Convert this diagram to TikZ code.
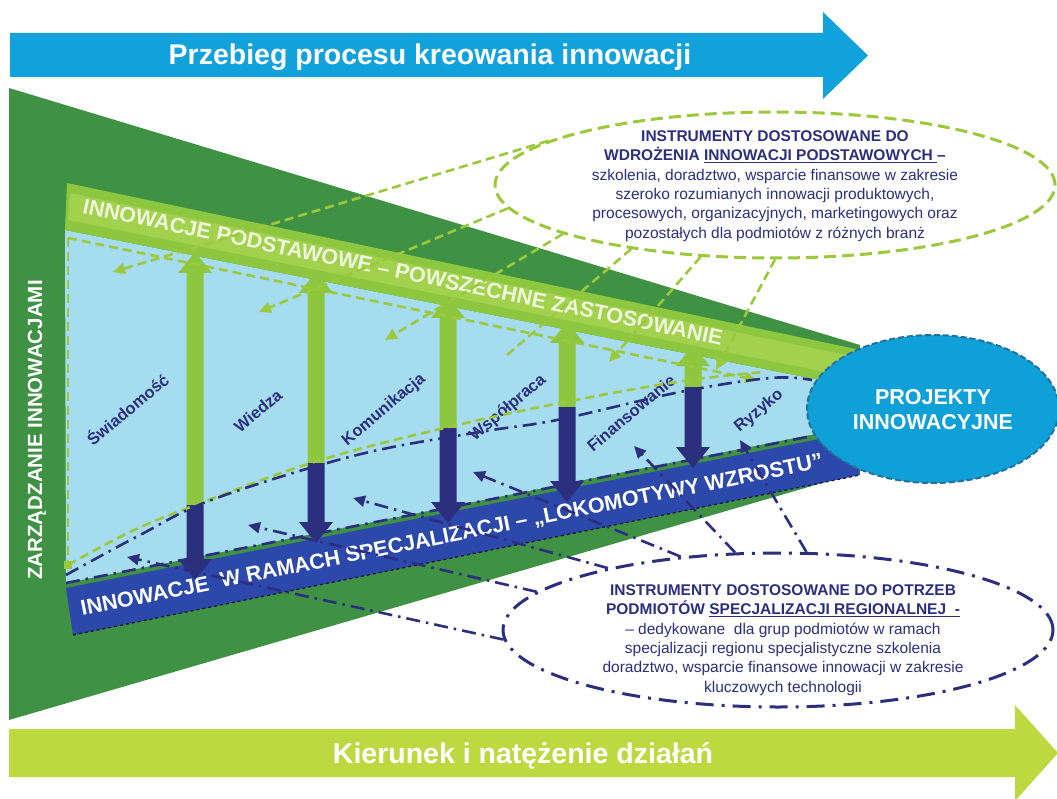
\documentclass[tikz,border=0pt]{standalone}
\usepackage{fontspec}
\setmainfont{Liberation Sans}
\usetikzlibrary{shapes.geometric,arrows.meta}
\definecolor{arrblue}{HTML}{12A2DB}
\definecolor{limec}{HTML}{BED840}
\definecolor{dgreen}{HTML}{3F9144}
\definecolor{lgreen}{HTML}{8DC63F}
\definecolor{lgreenhi}{HTML}{A2D14E}
\definecolor{lblue}{HTML}{A5DCF0}
\definecolor{navy}{HTML}{2B2F7E}
\definecolor{rblue}{HTML}{2B48AA}
\definecolor{dashg}{HTML}{9CC93C}
\definecolor{projblue}{HTML}{10A0D8}
\definecolor{projedge}{HTML}{24709F}
\definecolor{bandtext}{HTML}{EEF6DC}
\begin{document}
\begin{tikzpicture}[x=1pt,y=-1pt,
  gdash/.style={dashg, line width=2.6pt, dash pattern=on 9pt off 5pt},
  ndash/.style={navy, line width=2.6pt, dash pattern=on 14pt off 6pt on 2.5pt off 6pt},
  garr/.style={gdash,-{Triangle[length=12pt,width=11pt]}},
  narr/.style={ndash,-{Triangle[length=12pt,width=11pt]}},
  lab/.style={font=\fontsize{16.5}{18}\selectfont\bfseries, text=navy, rotate=40, inner sep=0pt},
  instr/.style={font=\fontsize{15.5}{19.4}\selectfont, text=navy, align=center, inner sep=0pt},
  bandlab/.style={font=\fontsize{21.5}{24}\selectfont\bfseries, inner sep=0pt},
  bigarrtext/.style={font=\fontsize{28.5}{32}\selectfont\bfseries, text=white, inner sep=0pt, anchor=base},
]
\useasboundingbox (0,0) rectangle (1057,799);
% big arrows
\fill[arrblue] (10,33) -- (823,33) -- (823,12) -- (868,55.5) -- (823,99) -- (823,77) -- (10,77) -- cycle;
\node[bigarrtext] (proc) at (430,65) {Przebieg procesu kreowania innowacji};
\fill[limec] (9,729) -- (1015,729) -- (1015,705) -- (1058,753) -- (1015,801) -- (1015,777) -- (9,777) -- cycle;
\node[bigarrtext] (kier) at (523,763) {Kierunek i natężenie działań};
% trapezoid
\fill[dgreen] (9,88) -- (860,345) -- (860,472) -- (9,720) -- cycle;
% light blue area
\fill[lblue] (65,230) -- (870,390) -- (860,425) -- (66,583) -- cycle;
% top band
\fill[lgreen] (67,183) -- (870,352) -- (870,390) -- (65,230) -- cycle;
\fill[lgreenhi] (70,193) -- (870,360) -- (870,381) -- (68,220) -- cycle;
% bottom band
\fill[rblue] (66,588) -- (855,432) -- (860,475) -- (73,635) -- cycle;
\draw[black!60!navy, line width=1.2pt, dashed] (73,635) -- (860,475);
\node[bandlab, text=bandtext, rotate=-11.7] (bandA) at (403,272) {INNOWACJE PODSTAWOWE – POWSZECHNE ZASTOSOWANIE};
\node[bandlab, text=white, rotate=11.3] (bandB) at (452,536) {INNOWACJE\ \ W RAMACH SPECJALIZACJI – „LOKOMOTYWY WZROSTU”};
\node[font=\fontsize{20.5}{24}\selectfont\bfseries, text=white, rotate=90, inner sep=0pt] (zarz) at (37,430) {ZARZĄDZANIE INNOWACJAMI};
% vertical double arrows
\foreach \x/\t/\s/\b in {195/252/505/580, 316/272/463/543, 448/297/428/523, 567/322/407/502, 693/345/387/468} {
  \fill[lgreen] ({\x-8.5},\s) -- ({\x-8.5},{\t+21}) -- ({\x-17},{\t+21}) -- (\x,\t) -- ({\x+17},{\t+21}) -- ({\x+8.5},{\t+21}) -- ({\x+8.5},\s) -- cycle;
  \fill[navy] ({\x-8.5},\s) -- ({\x-8.5},{\b-21}) -- ({\x-17},{\b-21}) -- (\x,\b) -- ({\x+17},{\b-21}) -- ({\x+8.5},{\b-21}) -- ({\x+8.5},\s) -- cycle;
}
% labels
\node[lab] (l1) at (127,409) {Świadomość};
\node[lab] (l2) at (258,411) {Wiedza};
\node[lab] (l3) at (384,410) {Komunikacja};
\node[lab] (l4) at (508,408) {Współpraca};
\node[lab] (l5) at (631,413) {Finansowanie};
\node[lab] (l6) at (759,411) {Ryzyko};
% dashed boundaries
\draw[gdash] (68,238) -- (68,565);
\draw[garr] (68,238) -- (757,380);
\draw[gdash] plot[smooth, tension=0.6] coordinates {(68,565) (130,532) (193,506) (314,462) (440,429) (560,403) (683,381) (765,372)};
\fill[dashg] (64,561) rectangle (72,569);
\draw[ndash] plot[smooth, tension=0.6] coordinates {(66,575) (140,535) (214,499) (357,455) (480,432) (557,420) (680,392) (770,378) (812,380)};
\draw[ndash] (66,583) -- (812,436);
% project ellipse
\node[ellipse, minimum width=252pt, minimum height=148pt, inner sep=0pt, fill=projblue, draw=projedge, line width=2pt, dash pattern=on 6pt off 3pt] (proj) at (933,409) {};
\node[font=\fontsize{21.5}{25}\selectfont\bfseries, text=white, align=center] (projtext) at (933,410) {PROJEKTY\\INNOWACYJNE};
% instrument ellipse A
\node[ellipse, minimum width=560pt, minimum height=146pt, inner sep=0pt, draw=dashg, line width=3pt, dash pattern=on 12pt off 6pt] (instrA) at (775,185) {};
\node[instr] (instrAtext) at (775,186) {\textbf{INSTRUMENTY DOSTOSOWANE DO}\\ \textbf{WDROŻENIA \underline{INNOWACJI PODSTAWOWYCH\ }–}\\ szkolenia, doradztwo, wsparcie finansowe w zakresie\\ szeroko rozumianych innowacji produktowych,\\ procesowych, organizacyjnych, marketingowych oraz\\ pozostałych dla podmiotów z różnych branż};
\coordinate (g1) at (113,272);
\coordinate (g2) at (259,312);
\coordinate (g3) at (385,340);
\coordinate (g4) at (507,355);
\coordinate (g5) at (609,362);
\coordinate (g6) at (716,370);
\draw[garr] (instrA.169) -- (g1);
\draw[garr] (instrA.185) -- (g2);
\draw[garr] (instrA.193) -- (g3);
\draw[gdash] (instrA.204) -- (g4);
\draw[garr] (instrA.224) -- (g5);
\draw[garr] (instrA.270) -- (g6);
% instrument ellipse B
\node[ellipse, minimum width=550pt, minimum height=154pt, inner sep=0pt, draw=navy, line width=3pt, dash pattern=on 18pt off 8pt on 3pt off 8pt] (instrB) at (778,630) {};
\node[instr] (instrBtext) at (783,640) {\textbf{INSTRUMENTY DOSTOSOWANE DO POTRZEB}\\ \textbf{PODMIOTÓW \underline{SPECJALIZACJI REGIONALNEJ\ \ -}}\\ – dedykowane\ \ dla grup podmiotów w ramach\\ specjalizacji regionu specjalistyczne szkolenia\\ doradztwo, wsparcie finansowe innowacji w zakresie\\ kluczowych technologii};
\coordinate (n1) at (127,557);
\coordinate (n2) at (248,525);
\coordinate (n3) at (353,498);
\coordinate (n4) at (473,472);
\coordinate (n5) at (634,446);
\coordinate (n6) at (740,440);
\draw[narr] (instrB.182) -- (n1);
\draw[narr] (instrB.171) -- (n2);
\draw[narr] (instrB.160) -- (n3);
\draw[narr] (instrB.143) -- (n4);
\draw[narr] (instrB.119) -- (n5);
\draw[narr] (instrB.70) -- (n6);
\end{tikzpicture}
\end{document}
